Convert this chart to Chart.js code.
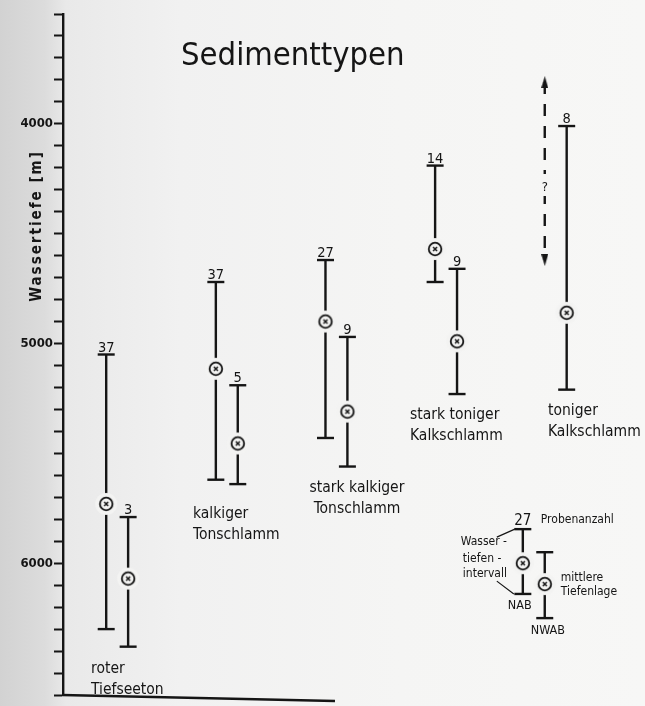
<!DOCTYPE html>
<html>
<head>
<meta charset="utf-8">
<script src="https://cdn.jsdelivr.net/npm/chart.js@4.4.1/dist/chart.umd.min.js"></script>
<style>
  body { margin: 0; background: #f4f4f3; }
  #wrap {
    width: 645px; height: 706px;
    background: linear-gradient(to right, #d2d2d2 0px, #dcdcdc 45px, #e9e9e9 66px, #f1f1f1 180px, #f5f5f4 400px, #f7f7f6 645px);
  }
</style>
</head>
<body>
<div id="wrap"><canvas id="sedChart" width="645" height="706"></canvas></div>
<script>
// Sedimenttypen: Wassertiefenintervall (NAB / NWAB) mit mittlerer Tiefenlage
const sedimentTypes = ['roter\nTiefseeton', 'kalkiger\nTonschlamm', 'stark kalkiger\nTonschlamm', 'stark toniger\nKalkschlamm', 'toniger\nKalkschlamm'];

// NAB
const nabCount  = [37, 37, 27, 14, null];
const nabTop    = [5050, 4720, 4620, 4190, null];
const nabMean   = [5730, 5115, 4900, 4570, null];
const nabBottom = [6300, 5620, 5430, 4720, null];

// NWAB
const nwabCount  = [3, 5, 9, 9, 8];
const nwabTop    = [5790, 5190, 4970, 4660, 4010];
const nwabMean   = [6070, 5455, 5310, 4990, 4860];
const nwabBottom = [6380, 5640, 5560, 5230, 5210];

// toniger Kalkschlamm, NAB unbekannt (gestrichelt, ?)
const unknownRange = [3810, 4620];

// Legende (Beispiel)
const keyCount  = 27;
const keyTop    = [5845, 5950];
const keyMean   = [6000, 6095];
const keyBottom = [6140, 6250];

const depthTicks = [3500, 6600];

const INK = '#151515';
const FONT = '"DejaVu Sans Condensed", "DejaVu Sans", sans-serif';
const PAIR = 0.2;       // Abstand NAB -> NWAB in Gruppeneinheiten
const KEY_X = [3.8, 4.0];

function makeMarker() {
  const c = document.createElement('canvas');
  c.width = 24; c.height = 24;
  const g = c.getContext('2d');
  g.fillStyle = '#f3f3f2';
  g.beginPath(); g.arc(12, 12, 11, 0, Math.PI * 2); g.fill();
  g.strokeStyle = INK;
  g.lineWidth = 1.8;
  g.beginPath(); g.arc(12, 12, 6.3, 0, Math.PI * 2); g.stroke();
  g.lineWidth = 1.5;
  g.beginPath();
  g.moveTo(10, 10); g.lineTo(14, 14);
  g.moveTo(14, 10); g.lineTo(10, 14);
  g.stroke();
  return c;
}

function makeArrow(up) {
  const c = document.createElement('canvas');
  c.width = 7; c.height = 12;
  const g = c.getContext('2d');
  g.fillStyle = INK;
  g.beginPath();
  if (up) { g.moveTo(3.5, 0); g.lineTo(7, 12); g.lineTo(0, 12); }
  else { g.moveTo(3.5, 12); g.lineTo(7, 0); g.lineTo(0, 0); }
  g.closePath(); g.fill();
  return c;
}

const marker = makeMarker();

function rangeSet(x, top, bottom) {
  return {
    type: 'line',
    data: [{ x: x, y: top }, { x: x, y: bottom }],
    borderColor: INK, borderWidth: 2.4,
    pointStyle: 'line', pointRadius: 8.5,
    pointBorderWidth: 2.4, pointBorderColor: INK,
    order: 1
  };
}

const datasets = [];
const means = [];
sedimentTypes.forEach(function (t, i) {
  if (nabTop[i] != null) {
    datasets.push(rangeSet(i, nabTop[i], nabBottom[i]));
    means.push({ x: i, y: nabMean[i] });
  }
  datasets.push(rangeSet(i + PAIR, nwabTop[i], nwabBottom[i]));
  means.push({ x: i + PAIR, y: nwabMean[i] });
});
keyTop.forEach(function (v, k) {
  datasets.push(rangeSet(KEY_X[k], keyTop[k], keyBottom[k]));
  means.push({ x: KEY_X[k], y: keyMean[k] });
});

// gestrichelter Pfeil
datasets.push({
  type: 'line',
  data: [{ x: 4, y: unknownRange[0] }, { x: 4, y: unknownRange[1] }],
  borderColor: INK, borderWidth: 2.4, borderDash: [12, 10],
  pointStyle: [makeArrow(true), makeArrow(false)],
  order: 1
});

datasets.push({
  type: 'scatter',
  data: means,
  pointStyle: marker,
  pointRadius: 10,
  order: 0
});

const notes = {
  id: 'notes',
  afterDatasetsDraw(chart) {
    const ctx = chart.ctx;
    const x = chart.scales.x, y = chart.scales.y;
    const area = chart.chartArea;
    ctx.save();
    ctx.fillStyle = INK;
    ctx.strokeStyle = INK;

    // untere Begrenzung
    ctx.lineWidth = 2.4;
    ctx.beginPath();
    ctx.moveTo(area.left - 1, area.bottom);
    ctx.lineTo(335, area.bottom + 6);
    ctx.stroke();

    // Titel
    ctx.textBaseline = 'alphabetic';
    ctx.textAlign = 'left';
    ctx.font = '32.5px ' + FONT;
    ctx.fillText('Sedimenttypen', 181, 65);

    // Achsentitel
    ctx.save();
    ctx.translate(41, 226);
    ctx.rotate(-Math.PI / 2);
    ctx.textAlign = 'center';
    ctx.font = 'bold 15px ' + FONT;
    ctx.letterSpacing = '2px';
    ctx.fillText('Wassertiefe [m]', 0, 0);
    ctx.restore();

    // Probenanzahl
    ctx.textAlign = 'center';
    ctx.font = '14.5px ' + FONT;
    sedimentTypes.forEach(function (t, i) {
      if (nabCount[i] != null) ctx.fillText(String(nabCount[i]), x.getPixelForValue(i), y.getPixelForValue(nabTop[i]) - 3);
      ctx.fillText(String(nwabCount[i]), x.getPixelForValue(i + PAIR), y.getPixelForValue(nwabTop[i]) - 3);
    });

    // Fragezeichen im gestrichelten Pfeil
    const qx = x.getPixelForValue(4);
    ctx.fillStyle = '#f5f5f4';
    ctx.fillRect(qx - 5, 174, 10, 22);
    ctx.fillStyle = INK;
    ctx.font = '13px ' + FONT;
    ctx.fillText('?', qx, 191);

    // Beschriftung der Sedimenttypen
    const spots = [[91, 673, 'left'], [193, 518, 'left'], [357, 492, 'center'], [410, 419, 'left'], [548, 415, 'left']];
    ctx.font = '15.5px ' + FONT;
    sedimentTypes.forEach(function (t, i) {
      const s = spots[i];
      ctx.textAlign = s[2];
      t.split('\n').forEach(function (line, j) {
        ctx.fillText(line, s[0], s[1] + j * 20.5);
      });
    });

    // Legende
    const kx = x.getPixelForValue(KEY_X[0]);
    const kt = y.getPixelForValue(keyTop[0]);
    const kb = y.getPixelForValue(keyBottom[0]);
    ctx.textAlign = 'center';
    ctx.font = '15px ' + FONT;
    ctx.fillText(String(keyCount), kx, kt - 4);
    ctx.textAlign = 'left';
    ctx.font = '12px ' + FONT;
    ctx.fillText('Probenanzahl', kx + 18, kt - 6);
    ctx.fillText('Wasser -', kx - 62, kt + 16);
    ctx.fillText('tiefen -', kx - 60, kt + 33);
    ctx.fillText('intervall', kx - 60, kt + 48);
    ctx.fillText('mittlere', kx + 38, kt + 52);
    ctx.fillText('Tiefenlage', kx + 38, kt + 66);
    ctx.font = '12.5px ' + FONT;
    ctx.fillText('NAB', kx - 15, kb + 15);
    ctx.fillText('NWAB', x.getPixelForValue(KEY_X[1]) - 14, y.getPixelForValue(keyBottom[1]) + 16);
    ctx.lineWidth = 1.2;
    ctx.beginPath();
    ctx.moveTo(kx - 26, kt + 8); ctx.lineTo(kx - 8, kt);
    ctx.moveTo(kx - 26, kt + 52); ctx.lineTo(kx - 9, kb);
    ctx.stroke();
    ctx.restore();
  }
};

new Chart(document.getElementById('sedChart').getContext('2d'), {
  type: 'line',
  data: { datasets: datasets },
  options: {
    responsive: false,
    animation: false,
    events: [],
    layout: { padding: { top: 14, bottom: 7, left: 0, right: 0 } },
    plugins: { legend: { display: false }, tooltip: { enabled: false } },
    scales: {
      x: { type: 'linear', min: -0.394, max: 4.814, display: false },
      y: {
        type: 'linear', reverse: true,
        min: depthTicks[0], max: depthTicks[1],
        afterFit: function (scale) { scale.width = 63; },
        border: { display: true, color: INK, width: 2.4 },
        grid: { drawOnChartArea: false, drawTicks: true, tickLength: 9, tickWidth: 2, tickColor: INK },
        ticks: {
          stepSize: 100, autoSkip: false, padding: 1, color: INK,
          font: { family: FONT, size: 13, weight: 'bold' },
          callback: function (v) { return v % 1000 === 0 ? String(v) : ''; }
        }
      }
    }
  },
  plugins: [notes]
});
</script>
</body>
</html>
